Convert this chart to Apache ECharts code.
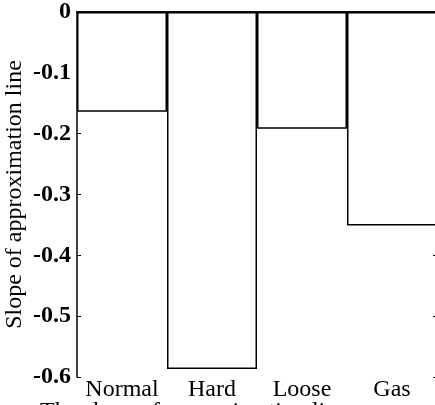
<!DOCTYPE html>
<html>
<head>
<meta charset="utf-8">
<script src="https://cdn.jsdelivr.net/npm/echarts@6/dist/echarts.min.js"></script>
<style>
  html, body { margin: 0; padding: 0; background: #fff; }
  #main { width: 435px; height: 405px; }
</style>
</head>
<body>
<div id="main"></div>
<script>
var categories = ["Normal", "Hard", "Loose", "Gas"];
var slopes = [-0.164, -0.587, -0.192, -0.351];
var yTicks = [0, -0.1, -0.2, -0.3, -0.4, -0.5, -0.6];

var myChart = echarts.init(document.getElementById("main"));
var serif = "Liberation Serif";

myChart.setOption({
  backgroundColor: "#ffffff",
  animation: false,
  grid: { left: 77, top: 12, right: -2, bottom: 28, containLabel: false, outerBoundsMode: "none" },
  xAxis: [
    {
      type: "category",
      data: categories,
      position: "bottom",
      axisLine: { lineStyle: { color: "#000", width: 1.5 } },
      axisTick: { inside: true, alignWithLabel: true, length: 4, lineStyle: { color: "#000" } },
      axisLabel: { color: "#000", fontFamily: serif, fontSize: 24, margin: 1, interval: 0 },
    },
    {
      type: "category",
      data: categories,
      position: "top",
      axisLine: { lineStyle: { color: "#000", width: 1.5 } },
      axisTick: { inside: true, alignWithLabel: true, length: 4, lineStyle: { color: "#000" } },
      axisLabel: { show: false },
    },
  ],
  yAxis: [
    {
      type: "value",
      min: yTicks[yTicks.length - 1],
      max: yTicks[0],
      interval: 0.1,
      name: "Slope of approximation line",
      nameLocation: "middle",
      nameGap: 50,
      nameMoveOverlap: false,
      nameTextStyle: { color: "#000", fontFamily: serif, fontSize: 24 },
      axisLine: { show: true, lineStyle: { color: "#000", width: 1.5 } },
      axisTick: { show: true, inside: true, length: 4, lineStyle: { color: "#000" } },
      splitLine: { show: false },
      axisLabel: {
        color: "#000",
        fontFamily: serif,
        fontWeight: "bold",
        fontSize: 24,
        margin: 6,
        formatter: function (v) {
          return v === 0 ? "0" : v.toFixed(1);
        },
      },
    },
    {
      type: "value",
      position: "right",
      min: yTicks[yTicks.length - 1],
      max: yTicks[0],
      interval: 0.1,
      axisLine: { show: true, lineStyle: { color: "#000", width: 1.5 } },
      axisTick: { show: true, inside: true, length: 4, lineStyle: { color: "#000" } },
      axisLabel: { show: false },
      splitLine: { show: false },
    },
  ],
  series: [
    {
      type: "bar",
      data: slopes,
      barCategoryGap: "0%",
      itemStyle: { color: "#ffffff", borderColor: "#000", borderWidth: 1.5 },
    },
  ],
  graphic: [
    {
      type: "text",
      x: 40,
      y: 400,
      style: {
        text: "The slope of approximation line",
        font: "24px " + serif,
        fill: "#000",
        verticalAlign: "top",
      },
    },
  ],
});
</script>
</body>
</html>
